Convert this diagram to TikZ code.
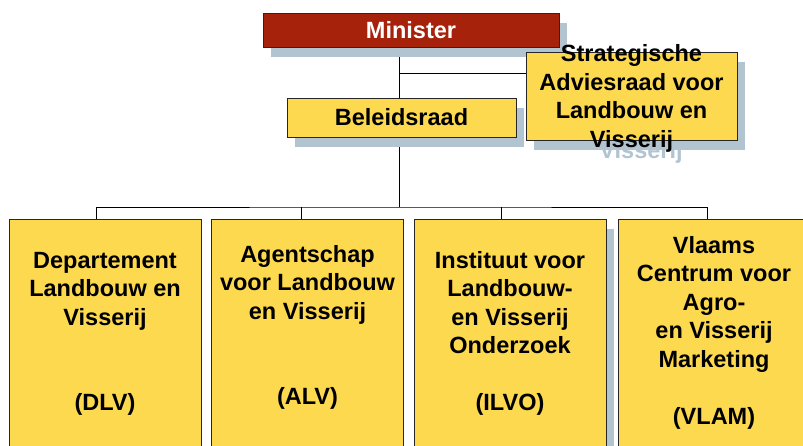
\documentclass[tikz,border=0pt]{standalone}
\usepackage{fontspec}
\setmainfont{Liberation Sans}
\usetikzlibrary{shadows,backgrounds}

\definecolor{unitfill}{RGB}{253,217,79}
\definecolor{ministerred}{RGB}{166,34,11}
\definecolor{shadowblue}{RGB}{177,196,208}

\tikzset{
  box/.style={draw=black!85, line width=0.8pt, inner sep=0pt, fill=unitfill},
  boxshadow/.style={drop shadow={shadow xshift=8pt, shadow yshift=-10pt, fill=shadowblue, opacity=1}},
  lbl/.style={font=\fontsize{23.5pt}{28.5pt}\selectfont\bfseries, align=center, inner sep=0pt},
}

\begin{document}
\begin{tikzpicture}[x=1pt, y=-1pt]
\useasboundingbox (0,0) rectangle (803,445);
\clip (0,0) rectangle (803,445);

\coordinate (hub) at (399,207);
\coordinate (split) at (399,73);

%top
\node[box, boxshadow, fill=ministerred, text=white, lbl, minimum width=296pt, minimum height=34pt] (minister) at (411,30) {Minister};
\node[box, boxshadow, lbl, minimum width=229pt, minimum height=39pt] (beleid) at (401.5,117.5) {Beleidsraad};

%advisory board, last line echoed in the shadow
\node[lbl, text=shadowblue, anchor=base] (saraecho) at (641,158) {Visserij};
\node[box, boxshadow, minimum width=211pt, minimum height=88pt] (sara) at (631.5,96) {};
\node[lbl] (saratext) at (631.5,98.5) {Strategische\\Adviesraad voor\\Landbouw en\\Visserij};

%agencies
\node[box, minimum width=192pt, minimum height=232pt] (dlv) at (105,335) {};
\node[box, minimum width=192pt, minimum height=232pt] (alv) at (307.5,335) {};
\node[box, boxshadow, minimum width=192pt, minimum height=232pt] (ilvo) at (510,335) {};
\node[box, minimum width=192pt, minimum height=232pt] (vlam) at (714,335) {};

\node[lbl, anchor=north] (dlvtext) at (105,252) {Departement\\Landbouw en\\Visserij\\~\\~\\(DLV)};
\node[lbl, anchor=north] (alvtext) at (307.5,245) {Agentschap\\voor Landbouw\\en Visserij\\~\\~\\(ALV)};
\node[lbl, anchor=north] (ilvotext) at (510,251) {Instituut voor\\Landbouw-\\en Visserij\\Onderzoek\\~\\(ILVO)};
\node[lbl, anchor=north] (vlamtext) at (714,236) {Vlaams\\Centrum voor\\Agro-\\en Visserij\\Marketing\\~\\(VLAM)};

%lines
\begin{scope}[on background layer, line width=0.9pt]
\draw (minister.south -| hub) -- (hub);
\draw (split) -- (split -| sara.west);
\draw ([xshift=-9pt]dlv.north) |- (hub) -| ([xshift=-7pt]vlam.north);
\foreach \n/\dx in {alv/-6.5,ilvo/-9}
  \draw ([xshift=\dx pt]\n.north) -- ([xshift=\dx pt]\n.north |- hub);
\end{scope}

\end{tikzpicture}
\end{document}
